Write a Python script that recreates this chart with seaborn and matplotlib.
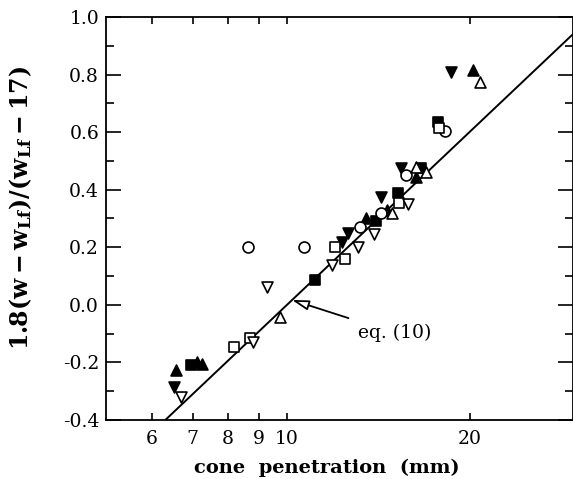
import numpy as np
import pandas as pd
import matplotlib
matplotlib.use("Agg")
import matplotlib.pyplot as plt
import seaborn as sns
from matplotlib.ticker import FixedLocator, NullLocator, MultipleLocator

# cone penetration (mm) and normalised water content, grouped by symbol
fill_tri_up_x = [6.57, 7.10, 7.25, 13.5, 14.6, 16.3, 20.2]
fill_tri_up_y = [-0.228, -0.200, -0.205, 0.300, 0.330, 0.445, 0.815]

fill_tri_dn_x = [6.52, 12.3, 12.6, 14.3, 15.4, 18.6]
fill_tri_dn_y = [-0.285, 0.220, 0.250, 0.375, 0.475, 0.810]

fill_sq_x = [6.95, 11.1, 14.0, 15.2, 16.6, 17.7]
fill_sq_y = [-0.210, 0.086, 0.290, 0.390, 0.475, 0.635]

open_circ_x = [8.63, 10.66, 13.2, 14.3, 15.7, 18.2]
open_circ_y = [0.200, 0.200, 0.270, 0.320, 0.450, 0.605]

open_sq_x = [8.18, 8.69, 12.0, 12.45, 15.3, 17.8]
open_sq_y = [-0.146, -0.115, 0.200, 0.160, 0.355, 0.615]

open_tri_dn_x = [6.69, 8.79, 9.27, 11.85, 13.08, 13.9, 15.8]
open_tri_dn_y = [-0.320, -0.130, 0.062, 0.140, 0.200, 0.245, 0.350]

open_tri_up_x = [9.74, 14.9, 16.3, 16.9, 20.75]
open_tri_up_y = [-0.042, 0.320, 0.480, 0.460, 0.775]

# eq. (10): y = a*log10(d) + b
eq_slope = 2.0
eq_intercept = -2.0

x_ticks = [6, 7, 8, 9, 10, 20]
x_tick_labels = ["6", "7", "8", "9", "10", "20"]

sns.set_style("ticks")
plt.rcParams["font.family"] = ["DejaVu Serif"]
plt.rcParams["mathtext.fontset"] = "dejavuserif"
plt.rcParams["axes.unicode_minus"] = False
for key in ("text.color", "axes.labelcolor", "xtick.color", "ytick.color"):
    plt.rcParams[key] = "black"

fig = plt.figure(figsize=(5.73, 4.79), dpi=100)
ax = fig.add_axes([0.185, 0.1232, 0.8145, 0.8413])

groups = [
    (fill_tri_up_x, fill_tri_up_y, "^", "black"),
    (fill_tri_dn_x, fill_tri_dn_y, "v", "black"),
    (fill_sq_x, fill_sq_y, "s", "black"),
    (open_circ_x, open_circ_y, "o", "white"),
    (open_sq_x, open_sq_y, "s", "white"),
    (open_tri_dn_x, open_tri_dn_y, "v", "white"),
    (open_tri_up_x, open_tri_up_y, "^", "white"),
]

xlim = (5.04, 29.5)
ylim = (-0.4, 1.0)

# fitted line
line_x = np.logspace(np.log10(xlim[0]), np.log10(xlim[1]), 50)
line_df = pd.DataFrame({"x": line_x, "y": eq_slope * np.log10(line_x) + eq_intercept})
sns.lineplot(data=line_df, x="x", y="y", color="black", linewidth=1.4, ax=ax, zorder=2)

for gx, gy, mk, fc in groups:
    df = pd.DataFrame({"x": gx, "y": gy})
    sns.scatterplot(data=df, x="x", y="y", marker=mk, s=62, facecolor=fc,
                    edgecolor="black", linewidth=1.2, ax=ax, zorder=3)

ax.set_xscale("log")
ax.set_xlim(*xlim)
ax.set_ylim(*ylim)
ax.xaxis.set_major_locator(FixedLocator(x_ticks))
ax.xaxis.set_minor_locator(NullLocator())
ax.set_xticklabels(x_tick_labels)
ax.yaxis.set_major_locator(MultipleLocator(0.2))
ax.yaxis.set_minor_locator(MultipleLocator(0.1))
ax.set_yticklabels([f"{v:.1f}" for v in ax.get_yticks()])
ax.set_ylim(*ylim)

ax.tick_params(axis="x", which="major", direction="in", length=5, width=1.2,
               top=True, labelsize=13.5, pad=7)
ax.tick_params(axis="y", which="major", direction="in", length=11, width=1.2,
               right=True, labelsize=13.5, pad=5)
ax.tick_params(axis="y", which="minor", direction="in", length=6, width=1.2,
               right=True)
for sp in ax.spines.values():
    sp.set_linewidth(1.3)
    sp.set_color("black")

ax.set_xlabel("cone  penetration  (mm)", fontsize=14, fontweight="bold")
ax.xaxis.set_label_coords(0.473, -0.095)
ax.set_ylabel(r"$\mathbf{1.8(w-w_{Lf})/(w_{Lf}-17)}$", fontsize=17)
ax.yaxis.set_label_coords(-0.155, 0.525)

ax.annotate("eq. (10)", xy=(10.19, 0.017), xytext=(13.1, -0.098),
            fontsize=13.5, va="center", ha="left",
            arrowprops=dict(arrowstyle="-|>,head_length=0.75,head_width=0.22",
                            facecolor="white", edgecolor="black", lw=1.3,
                            shrinkA=6, shrinkB=0))

fig.savefig("out.png", dpi=100)
